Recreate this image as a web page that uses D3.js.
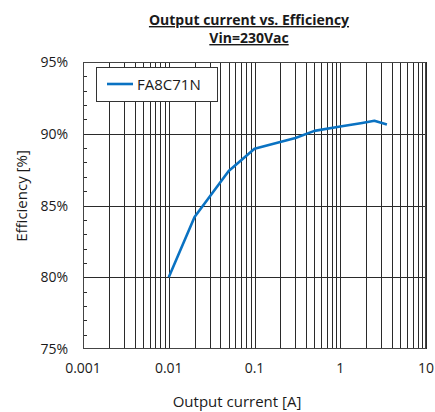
<!DOCTYPE html>
<html><head><meta charset="utf-8">
<script src="https://cdn.jsdelivr.net/npm/d3@7"></script>
<style>body{margin:0;background:#fff;} svg{display:block;font-family:"Open Sans",sans-serif;}</style>
</head><body>
<div id="chart"></div>
<script>
const current = [0.01, 0.02, 0.05, 0.1, 0.3, 0.5, 1, 1.8, 2.5, 3.5];
const efficiency = [80.0, 84.2, 87.4, 88.95, 89.7, 90.2, 90.5, 90.75, 90.9, 90.65];
const seriesName = "FA8C71N";
const xTickValues = [0.001, 0.01, 0.1, 1, 10];
const xTickLabels = ["0.001", "0.01", "0.1", "1", "10"];
const yTickValues = [75, 80, 85, 90, 95];
const yTickLabels = ["75%", "80%", "85%", "90%", "95%"];
const titleLines = ["Output current vs. Efficiency", "Vin=230Vac"];
const xTitle = "Output current [A]";
const yTitle = "Efficiency [%]";

const W = 435, H = 412;
const m = {left: 83, right: 9, top: 62, bottom: 63};
const pw = W - m.left - m.right, ph = H - m.top - m.bottom;
const svg = d3.select("#chart").append("svg").attr("width", W).attr("height", H);
const x = d3.scaleLog().domain([0.001, 10]).range([m.left, m.left + pw]);
const y = d3.scaleLinear().domain([75, 95]).range([m.top + ph, m.top]);
const gridColor = "#2a2a2a";
const textColor = "#1a1a1a";

// vertical grid lines
const vGrid = [];
[0.001, 0.01, 0.1, 1].forEach(d => { for (let k = 1; k <= 9; k++) vGrid.push(d * k); });
vGrid.push(10);
svg.append("g").selectAll("line").data(vGrid).join("line")
  .attr("x1", d => Math.round(x(d)) + 0.5).attr("x2", d => Math.round(x(d)) + 0.5)
  .attr("y1", m.top).attr("y2", m.top + ph)
  .attr("stroke", gridColor).attr("stroke-width", 1);
// horizontal grid
svg.append("g").selectAll("line").data([80, 85, 90]).join("line")
  .attr("x1", m.left).attr("x2", m.left + pw)
  .attr("y1", d => Math.round(y(d)) + 0.5).attr("y2", d => Math.round(y(d)) + 0.5)
  .attr("stroke", gridColor).attr("stroke-width", 1);
// minor y ticks
const yMinor = d3.range(76, 95).filter(v => v % 5 !== 0);
svg.append("g").selectAll("line").data(yMinor).join("line")
  .attr("x1", m.left).attr("x2", m.left + 4)
  .attr("y1", d => Math.round(y(d)) + 0.5).attr("y2", d => Math.round(y(d)) + 0.5)
  .attr("stroke", gridColor).attr("stroke-width", 1);
// frame
svg.append("rect").attr("x", m.left + 0.5).attr("y", m.top + 0.5)
  .attr("width", pw - 1).attr("height", ph - 1)
  .attr("fill", "none").attr("stroke", "#444").attr("stroke-width", 1);

// axes labels
svg.append("g").selectAll("text").data(xTickValues).join("text")
  .attr("x", d => x(d)).attr("y", m.top + ph + 24)
  .attr("text-anchor", "middle").attr("font-size", 14).attr("fill", textColor)
  .text((d, i) => xTickLabels[i]);
svg.append("g").selectAll("text").data(yTickValues).join("text")
  .attr("x", m.left - 15).attr("y", d => y(d) + 5)
  .attr("text-anchor", "end").attr("font-size", 14).attr("fill", textColor)
  .text((d, i) => yTickLabels[i]);

// titles
svg.append("g").selectAll("text").data(titleLines).join("text")
  .attr("x", 249).attr("y", (d, i) => 25 + i * 18)
  .attr("text-anchor", "middle").attr("font-size", 14).attr("font-weight", "bold")
  .attr("text-decoration", "underline").attr("fill", textColor).text(d => d);
svg.append("text").attr("x", 237).attr("y", 407)
  .attr("text-anchor", "middle").attr("font-size", 15).attr("fill", textColor).text(xTitle);
svg.append("text").attr("transform", "translate(27,196) rotate(-90)")
  .attr("text-anchor", "middle").attr("font-size", 15).attr("fill", textColor).text(yTitle);

// data line
const pts = current.map((c, i) => [c, efficiency[i]]);
svg.append("path").datum(pts)
  .attr("d", d3.line().x(d => x(d[0])).y(d => y(d[1])))
  .attr("fill", "none").attr("stroke", "#0a72c2").attr("stroke-width", 2.6)
  .attr("stroke-linejoin", "round");

// legend
const lg = svg.append("g");
lg.append("rect").attr("x", 96.5).attr("y", 67.5).attr("width", 121).attr("height", 34)
  .attr("fill", "#fff").attr("stroke", "#333").attr("stroke-width", 1);
lg.append("line").attr("x1", 107).attr("x2", 133).attr("y1", 84).attr("y2", 84)
  .attr("stroke", "#0a72c2").attr("stroke-width", 2.6);
lg.append("text").attr("x", 137).attr("y", 89.5).attr("font-size", 15).attr("fill", textColor).text(seriesName);
</script>
</body></html>
